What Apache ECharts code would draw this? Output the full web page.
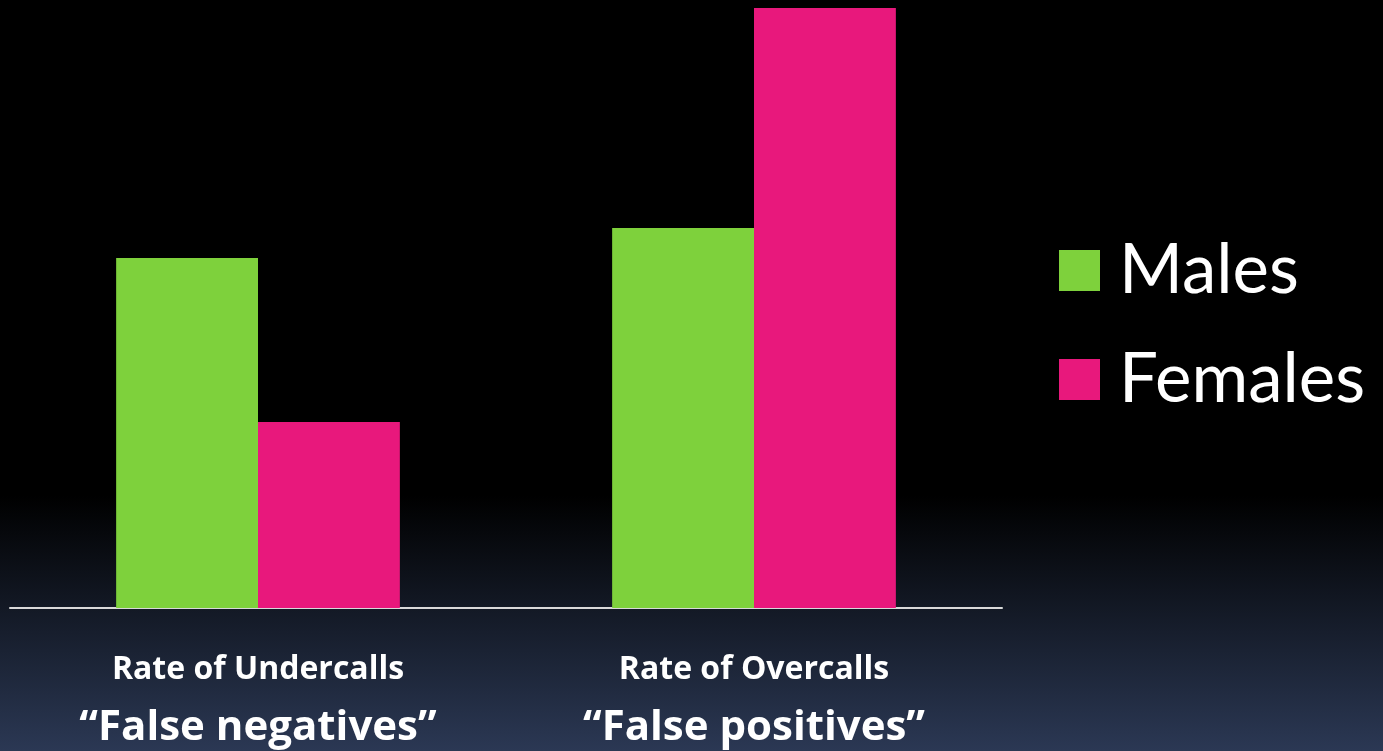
<!DOCTYPE html>
<html>
<head>
<meta charset="utf-8">
<script src="https://cdn.jsdelivr.net/npm/echarts@6/dist/echarts.min.js"></script>
<style>
  html, body { margin: 0; padding: 0; background: #000; }
  #chart { width: 1383px; height: 751px; }
</style>
</head>
<body>
<div id="chart"></div>
<script>
// categories and values (relative bar heights)
const categories = ["Rate of Undercalls", "Rate of Overcalls"];
const subLabels = ["“False negatives”", "“False positives”"];
const males = [3.5, 3.8];
const females = [1.86, 6.0];

const chart = echarts.init(document.getElementById("chart"));

const font = "Lato, 'Open Sans', sans-serif";
const labelFont = "'Open Sans', Lato, sans-serif";

chart.setOption({
  backgroundColor: {
    type: "linear", x: 0, y: 0, x2: 0, y2: 1,
    colorStops: [
      { offset: 0, color: "#000000" },
      { offset: 0.66, color: "#000000" },
      { offset: 1, color: "#2b3854" }
    ]
  },
  animation: false,
  grid: { left: 10, right: 381, top: 8, bottom: 143, outerBoundsMode: "none" },
  legend: {
    orient: "vertical",
    left: 1054,
    top: 231,
    itemWidth: 41,
    itemHeight: 41,
    itemGap: 40,
    icon: "rect",
    textStyle: {
      color: "#ffffff",
      fontFamily: font,
      fontSize: 69,
      lineHeight: 66,
      padding: [0, 0, 0, 14]
    },
    data: ["Males", "Females"]
  },
  xAxis: {
    type: "category",
    data: categories,
    axisLine: { lineStyle: { color: "#d9d9d9", width: 2 } },
    axisTick: { show: false },
    axisLabel: {
      margin: 34,
      formatter: (v, i) => `{a|${v}}\n{b|${subLabels[i]}}`,
      rich: {
        a: { color: "#ffffff", fontFamily: labelFont, fontWeight: "bold", fontSize: 32, lineHeight: 56 },
        b: { color: "#ffffff", fontFamily: labelFont, fontWeight: "bold", fontSize: 42, lineHeight: 60 }
      }
    }
  },
  yAxis: {
    type: "value",
    min: 0,
    max: 6,
    show: false,
    splitLine: { show: false }
  },
  series: [
    {
      name: "Males",
      type: "bar",
      data: males,
      barWidth: "28.6%",
      barGap: "0%",
      itemStyle: { color: "#7ed13c" }
    },
    {
      name: "Females",
      type: "bar",
      data: females,
      barWidth: "28.6%",
      itemStyle: { color: "#e8187c" }
    }
  ]
});
</script>
</body>
</html>
